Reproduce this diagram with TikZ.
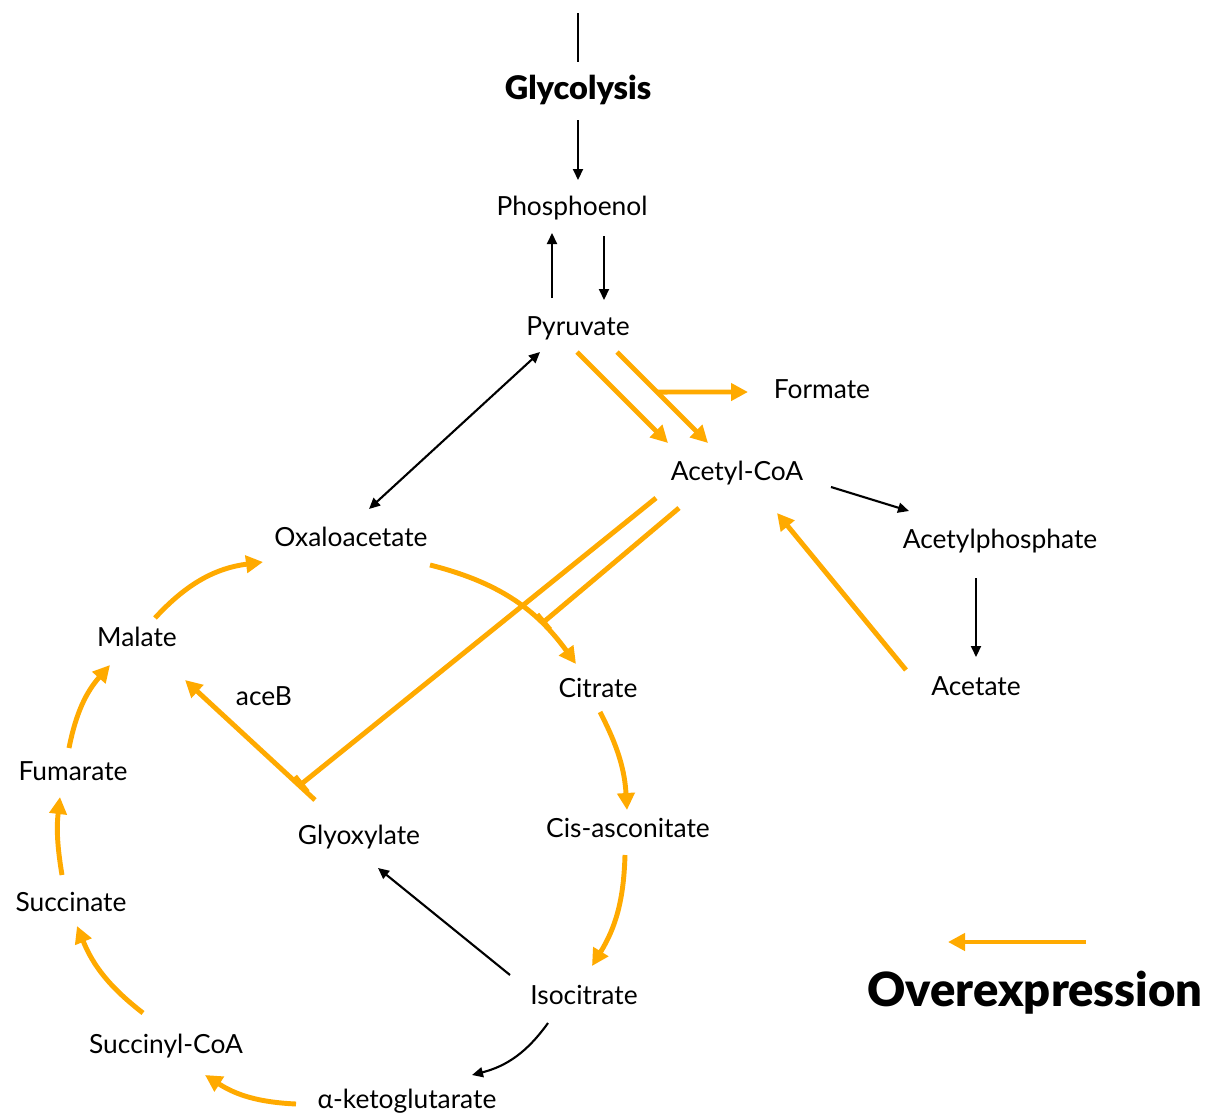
\documentclass[tikz,border=0pt]{standalone}
\usepackage{fontspec}
\setmainfont{Lato}
\newfontfamily\heavyfont{Lato Black}
\usetikzlibrary{arrows.meta,calc}
\definecolor{overexp}{HTML}{FFAA00}

\begin{document}
\begin{tikzpicture}[
    x=0.02cm, y=-0.02cm,
    metab/.style={font=\fontsize{15}{18}\selectfont, inner sep=0pt},
    title/.style={font=\fontsize{18.5}{22}\selectfont\heavyfont, inner sep=0pt},
    plain/.style={-{Triangle[length=0.22cm,width=0.2cm]}, line width=1.2pt},
    link/.style={line width=1.2pt},
    over/.style={-{Triangle[length=0.34cm,width=0.34cm]}, draw=overexp, line width=2.8pt},
    inhib/.style={-{Bar[width=0.4cm]}, draw=overexp, line width=2.8pt}
]
    \useasboundingbox (0,0) rectangle (1207,1119);

    % metabolites
    \node[title] (glyc) at (578,90) {Glycolysis};
    \node[metab] (phos) at (572,208) {Phosphoenol};
    \node[metab] (pyr) at (578,328) {Pyruvate};
    \node[metab] (form) at (822,389) {Formate};
    \node[metab] (acoa) at (737,473) {Acetyl-CoA};
    \node[metab] (acph) at (1000,541) {Acetylphosphate};
    \node[metab] (acet) at (976,686) {Acetate};
    \node[metab] (oxa) at (351,537) {Oxaloacetate};
    \node[metab] (mal) at (137,637) {Malate};
    \node[metab] (aceb) at (264,696) {aceB};
    \node[metab] (cit) at (598,688) {Citrate};
    \node[metab] (fum) at (73,771) {Fumarate};
    \node[metab] (glyox) at (359,837) {Glyoxylate};
    \node[metab] (cis) at (628,828) {Cis-asconitate};
    \node[metab] (succ) at (71,902) {Succinate};
    \node[metab] (iso) at (584,995) {Isocitrate};
    \node[metab] (scoa) at (166,1046) {Succinyl-CoA};
    \node[metab] (akg) at (407,1101) {α-ketoglutarate};
    \node[title, font=\fontsize{26.8}{31}\selectfont\heavyfont] (legend) at (1035,993) {Overexpression};
    \coordinate (top) at (578,13);

    % glycolysis
    \draw[link] (top) -- ($(glyc)+(0,-28)$);
    \draw[plain] ($(glyc)+(0,30)$) -- ($(phos)+(6,-28)$);
    \draw[plain] ($(pyr)+(-26,-30)$) -- ($(phos)+(-20,25)$);
    \draw[plain] ($(phos)+(32,28)$) -- ($(pyr)+(26,-28)$);
    \draw[plain, {Triangle[length=0.22cm,width=0.2cm]}-{Triangle[length=0.22cm,width=0.2cm]}] ($(pyr)+(-38,24)$) -- ($(oxa)+(18,-28)$);

    % pyruvate to acetyl-CoA
    \draw[over] ($(pyr)+(-1,24)$) -- ($(acoa)+(-69,-30)$);
    \draw[over] ($(pyr)+(39,24)$) -- coordinate[pos=0.44] (fsplit) ($(acoa)+(-29,-30)$);
    \draw[over] (fsplit) -- ($(form)+(-74,3)$);

    % acetate branch
    \draw[plain] ($(acoa)+(94,14)$) -- ($(acph)+(-91,-30)$);
    \draw[plain] ($(acph)+(-24,37)$) -- ($(acet)+(0,-29)$);
    \draw[over] ($(acet)+(-70,-16)$) -- ($(acoa)+(40,40)$);

    % TCA cycle
    \draw[over] ($(oxa)+(79,28)$) to[bend left=20] coordinate[pos=0.72] (citinh) ($(cit)+(-22,-24)$);
    \draw[over] ($(cit)+(2,24)$) to[bend left=12] ($(cis)+(-1,-18)$);
    \draw[over] ($(cis)+(-3,27)$) to[bend left=15] ($(iso)+(8,-29)$);
    \draw[plain] ($(iso)+(-36,28)$) to[bend left=20] ($(akg)+(65,-26)$);
    \draw[over] ($(akg)+(-111,3)$) to[bend left=15] ($(scoa)+(39,29)$);
    \draw[over] ($(scoa)+(-23,-33)$) to[bend left=15] ($(succ)+(6,24)$);
    \draw[over] ($(succ)+(-9,-27)$) to[bend left=8] ($(fum)+(-13,26)$);
    \draw[over] ($(fum)+(-4,-23)$) to[bend left=15] ($(mal)+(-27,28)$);
    \draw[over] ($(mal)+(18,-19)$) to[bend left=20] ($(oxa)+(-88,25)$);

    % glyoxylate shunt
    \draw[plain] ($(iso)+(-74,-20)$) -- ($(glyox)+(19,31)$);
    \draw[over] ($(glyox)+(-44,-37)$) -- coordinate[pos=0.12] (acebinh) ($(mal)+(48,43)$);
    \draw[inhib] ($(acoa)+(-81,25)$) -- (acebinh);
    \draw[inhib] ($(acoa)+(-58,35)$) -- (citinh);

    % legend
    \draw[over] ($(legend)+(51,-51)$) -- ($(legend)+(-87,-51)$);
\end{tikzpicture}
\end{document}
